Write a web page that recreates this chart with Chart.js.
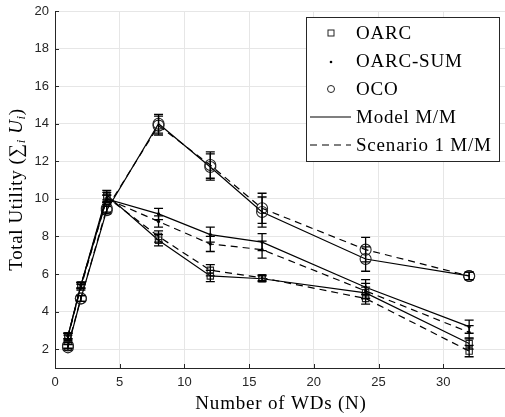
<!DOCTYPE html>
<html>
<head>
<meta charset="utf-8">
<script src="https://cdn.jsdelivr.net/npm/chart.js@4.4.1/dist/chart.umd.min.js"></script>
<style>
  html, body { margin: 0; padding: 0; background: #fff; }
  #wrap { width: 505px; height: 417px; position: relative; }
</style>
</head>
<body>
<div id="wrap"><canvas id="c" width="505" height="417"></canvas></div>
<script>
// ---- data ----
const nWDs = [1, 2, 4, 8, 12, 16, 24, 32];

const oarcModel     = [2.7, 5.4, 10.2, 7.8, 5.9, 5.75, 5.0, 2.3];
const oarcScenario  = [2.6, 5.4, 10.1, 8.0, 6.2, 5.8, 4.7, 1.9];
const oarcErr       = [0.15, 0.15, 0.25, 0.3, 0.3, 0.15, 0.3, 0.3];

const sumModel      = [2.7, 5.4, 10.0, 9.2, 8.1, 7.7, 5.3, 3.2];
const sumScenario   = [2.7, 5.3, 10.0, 8.8, 7.6, 7.3, 5.1, 2.9];
const sumErr        = [0.15, 0.15, 0.2, 0.3, 0.4, 0.45, 0.4, 0.35];

const ocoModel      = [2.1, 4.7, 9.4, 14.0, 11.7, 9.3, 6.8, 5.9];
const ocoScenario   = [2.2, 4.7, 9.5, 13.9, 11.8, 9.5, 7.3, 5.9];
const ocoErr        = [0.15, 0.15, 0.2, 0.5, 0.7, 0.8, 0.65, 0.2];

const xTicks = [0, 5, 10, 15, 20, 25, 30, 35];
const yTicks = [2, 4, 6, 8, 10, 12, 14, 16, 18, 20];

const legendNames = ['OARC', 'OARC-SUM', 'OCO', 'Model M/M', 'Scenario 1 M/M'];

// ---- build ----
const pts = arr => arr.map((v, i) => ({ x: nWDs[i], y: v }));
const SERIF = '"Liberation Serif", "DejaVu Serif", serif';
const SANS = '"Liberation Sans", Arial, sans-serif';

function ds(label, values, err, style, dashed) {
  const base = {
    label, data: pts(values), err,
    borderColor: '#000', borderWidth: 1.2,
    borderDash: dashed ? [7, 5] : [],
    backgroundColor: 'transparent',
    pointBorderColor: '#222', pointBorderWidth: 1.1,
    tension: 0, fill: false
  };
  if (style === 'rect') { base.pointStyle = 'rect'; base.pointRadius = 4.5; }
  if (style === 'circle') { base.pointStyle = 'circle'; base.pointRadius = 5.5; }
  if (style === 'dot') { base.pointStyle = 'circle'; base.pointRadius = 1.6; base.pointBackgroundColor = '#000'; base.pointBorderWidth = 0; }
  return base;
}

const datasets = [
  ds('OARC model', oarcModel, oarcErr, 'rect', false),
  ds('OARC scenario', oarcScenario, oarcErr, 'rect', true),
  ds('OARC-SUM model', sumModel, sumErr, 'dot', false),
  ds('OARC-SUM scenario', sumScenario, sumErr, 'dot', true),
  ds('OCO model', ocoModel, ocoErr, 'circle', false),
  ds('OCO scenario', ocoScenario, ocoErr, 'circle', true)
];

const errorBars = {
  id: 'errorBars',
  afterDatasetsDraw(chart) {
    const ctx = chart.ctx, xs = chart.scales.x, ys = chart.scales.y;
    ctx.save();
    ctx.strokeStyle = '#000'; ctx.lineWidth = 1.3; ctx.setLineDash([]);
    chart.data.datasets.forEach(d => {
      d.data.forEach((p, i) => {
        const e = d.err[i];
        const px = xs.getPixelForValue(p.x);
        const y1 = ys.getPixelForValue(p.y - e), y2 = ys.getPixelForValue(p.y + e);
        ctx.beginPath();
        ctx.moveTo(px, y1); ctx.lineTo(px, y2);
        ctx.moveTo(px - 4.5, y1); ctx.lineTo(px + 4.5, y1);
        ctx.moveTo(px - 4.5, y2); ctx.lineTo(px + 4.5, y2);
        ctx.stroke();
      });
    });
    ctx.restore();
  }
};

const decor = {
  id: 'decor',
  afterDraw(chart) {
    const ctx = chart.ctx, a = chart.chartArea;
    ctx.save();
    // axis tick marks (inward)
    ctx.strokeStyle = '#262626'; ctx.lineWidth = 1;
    const xs = chart.scales.x, ys = chart.scales.y;
    xTicks.forEach(t => { if (t <= xs.max) { const p = Math.round(xs.getPixelForValue(t)) + 0.5; ctx.beginPath(); ctx.moveTo(p, a.bottom); ctx.lineTo(p, a.bottom - 4); ctx.stroke(); } });
    yTicks.forEach(t => { const p = Math.round(ys.getPixelForValue(t)) + 0.5; ctx.beginPath(); ctx.moveTo(a.left, p); ctx.lineTo(a.left + 4, p); ctx.stroke(); });

    // legend
    const bx = 306.5, by = 17.5, bw = 193, bh = 144;
    ctx.fillStyle = '#fff'; ctx.fillRect(bx, by, bw, bh);
    ctx.strokeStyle = '#262626'; ctx.lineWidth = 1; ctx.strokeRect(bx, by, bw, bh);
    ctx.font = '19px ' + SERIF; ctx.letterSpacing = '0.8px';
    ctx.fillStyle = '#000'; ctx.textBaseline = 'middle'; ctx.textAlign = 'left';
    const rows = [33, 61, 89, 117, 145];
    const tx = 356;
    legendNames.forEach((n, i) => ctx.fillText(n, tx, rows[i] + 1));
    ctx.letterSpacing = '0px';
    ctx.strokeStyle = '#222'; ctx.lineWidth = 1;
    ctx.strokeRect(328, rows[0] - 3, 6, 6);
    ctx.fillStyle = '#000'; ctx.beginPath(); ctx.arc(331, rows[1] + 1, 1.3, 0, Math.PI * 2); ctx.fill();
    ctx.beginPath(); ctx.arc(331, rows[2], 3.5, 0, Math.PI * 2); ctx.stroke();
    ctx.strokeStyle = '#000'; ctx.lineWidth = 1.2;
    ctx.beginPath(); ctx.moveTo(310, rows[3]); ctx.lineTo(351, rows[3]); ctx.stroke();
    ctx.setLineDash([7, 5]);
    ctx.beginPath(); ctx.moveTo(310, rows[4]); ctx.lineTo(351, rows[4]); ctx.stroke();
    ctx.setLineDash([]);

    // y-axis title
    ctx.save();
    ctx.translate(17, (a.top + a.bottom) / 2);
    ctx.rotate(-Math.PI / 2);
    ctx.fillStyle = '#000'; ctx.textBaseline = 'middle'; ctx.textAlign = 'left';
    ctx.letterSpacing = '0.6px';
    const parts = [
      ['Total Utility (', '19px ' + SERIF, 0],
      ['\u2211', '19px ' + SERIF, 0],
      ['i', 'italic 13px ' + SERIF, 5],
      [' U', 'italic 19px ' + SERIF, 0],
      ['i', 'italic 13px ' + SERIF, 5],
      [')', '19px ' + SERIF, 0]
    ];
    let w = 0;
    parts.forEach(p => { ctx.font = p[1]; w += ctx.measureText(p[0]).width; });
    let x = -w / 2;
    parts.forEach(p => { ctx.font = p[1]; ctx.fillText(p[0], x, p[2]); x += ctx.measureText(p[0]).width; });
    ctx.restore();

    // x-axis title
    ctx.font = '19px ' + SERIF; ctx.letterSpacing = '0.8px';
    ctx.textAlign = 'center'; ctx.textBaseline = 'middle';
    ctx.fillText('Number of WDs (N)', 281, 404);
    ctx.restore();
  }
};

new Chart(document.getElementById('c'), {
  type: 'line',
  data: { datasets },
  plugins: [errorBars, decor],
  options: {
    responsive: false, animation: false,
    layout: { autoPadding: false, padding: { top: 11, right: 0, left: 0, bottom: 0 } },
    plugins: { legend: { display: false }, tooltip: { enabled: false } },
    scales: {
      x: {
        type: 'linear', min: 0, max: 34.77,
        afterBuildTicks: s => { s.ticks = xTicks.filter(v => v <= s.max).map(v => ({ value: v })); },
        afterFit: s => { s.height = 49; s.paddingRight = 0; s.paddingLeft = 0; },
        grid: { color: '#e6e6e6', lineWidth: 1, drawTicks: false },
        border: { color: '#262626', width: 1 },
        ticks: { font: { family: SANS, size: 13 }, color: '#262626', padding: 7, maxRotation: 0 }
      },
      y: {
        type: 'linear', min: 1, max: 20,
        afterBuildTicks: s => { s.ticks = yTicks.map(v => ({ value: v })); },
        afterFit: s => { s.width = 55; s.paddingTop = 0; s.paddingBottom = 0; },
        grid: { color: '#e6e6e6', lineWidth: 1, drawTicks: false },
        border: { color: '#262626', width: 1 },
        ticks: { font: { family: SANS, size: 13 }, color: '#262626', padding: 6 }
      }
    }
  }
});
</script>
</body>
</html>
